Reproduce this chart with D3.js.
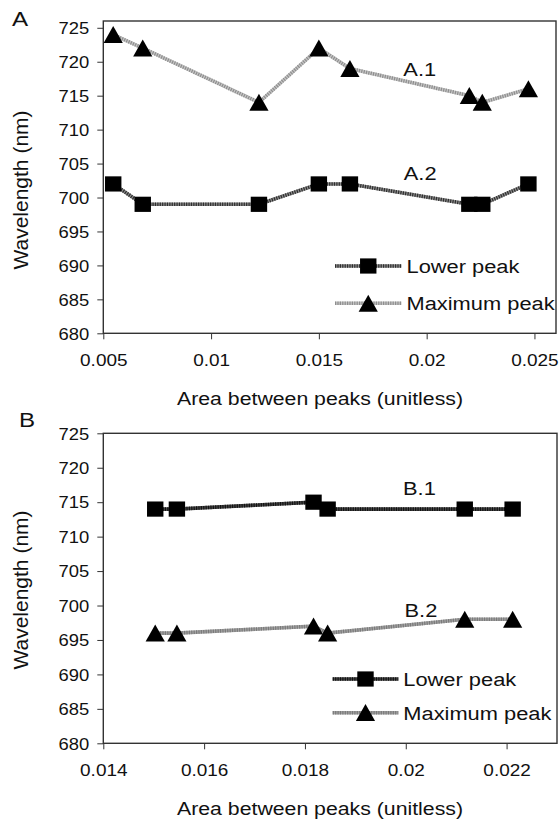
<!DOCTYPE html>
<html>
<head>
<meta charset="utf-8">
<script src="https://cdn.jsdelivr.net/npm/d3@7"></script>
<style>
  html, body { margin: 0; padding: 0; background: #fff; }
  svg { display: block; font-family: "Liberation Sans", Arial, sans-serif; }
</style>
</head>
<body>
<svg id="chart" width="559" height="821"></svg>
<script>
// Panel A data
const xA = [0.00546, 0.00683, 0.01222, 0.0150, 0.01644, 0.02198, 0.02258, 0.02472];
const lowerA = [702, 699, 699, 702, 702, 699, 699, 702];
const maxA = [724, 722, 714, 722, 719, 715, 714, 716];

// Panel B data
const xB = [0.01503, 0.01546, 0.01817, 0.01845, 0.02117, 0.02212];
const lowerB = [714, 714, 715, 714, 714, 714];
const maxB = [696, 696, 697, 696, 698, 698];

// tick labels
const yTicks = [680, 685, 690, 695, 700, 705, 710, 715, 720, 725];
const xTicksA = [0.005, 0.01, 0.015, 0.02, 0.025];
const xTicksB = [0.014, 0.016, 0.018, 0.02, 0.022];

const seriesNames = ['Lower peak', 'Maximum peak'];

// the original scan is a bit stretched sideways, so text gets the same
const SX = 1.15;

const svg = d3.select('#chart');

function stretchText(sel, x, y) {
  sel.attr('x', 0).attr('y', 0)
    .attr('transform', `translate(${x},${y}) scale(${SX},1)`);
}

function drawPanel(p) {
  const g = svg.append('g');
  const x = d3.scaleLinear().domain(p.xDomain).range([p.left, p.right]);
  const y = d3.scaleLinear().domain(p.yDomain).range([p.bottom, p.top]);

  // axes
  const ya = g.append('g')
    .attr('transform', `translate(${p.left},0)`)
    .call(d3.axisLeft(y).tickValues(yTicks).tickSize(6).tickSizeOuter(0));
  ya.select('.domain').remove();
  ya.selectAll('line').attr('stroke', '#333');
  ya.selectAll('text')
    .attr('font-size', 16).attr('fill', '#111').attr('dy', '0.36em')
    .each(function () { stretchText(d3.select(this), -14, 0); });

  const xa = g.append('g')
    .attr('transform', `translate(0,${p.bottom})`)
    .call(d3.axisBottom(x).tickValues(p.xTicks).tickSize(6).tickSizeOuter(0)
      .tickFormat(d => String(+d.toFixed(3))));
  xa.select('.domain').remove();
  xa.selectAll('line').attr('stroke', '#333');
  xa.selectAll('text')
    .attr('font-size', 16.5).attr('fill', '#111').attr('dy', '0.71em')
    .each(function () { stretchText(d3.select(this), 0, 21); });

  // frame
  g.append('rect')
    .attr('x', p.left).attr('y', p.top)
    .attr('width', p.right - p.left).attr('height', p.bottom - p.top)
    .attr('fill', 'none').attr('stroke', '#333').attr('stroke-width', 1.4);

  const line = d3.line().x(d => x(d[0])).y(d => y(d[1]));

  // hatched-looking lines: base stroke + fine dotted overlay
  p.series.forEach(s => {
    const pts = p.xs.map((v, i) => [v, s.values[i]]);
    g.append('path').datum(pts).attr('d', line)
      .attr('fill', 'none').attr('stroke', s.base).attr('stroke-width', 3.6);
    g.append('path').datum(pts).attr('d', line)
      .attr('fill', 'none').attr('stroke', s.dots).attr('stroke-width', 3.6)
      .attr('stroke-dasharray', '1.2 1.2');
  });

  p.series.forEach(s => {
    const pts = p.xs.map((v, i) => [v, s.values[i]]);
    drawMarkers(g, pts.map(d => [x(d[0]), y(d[1])]), s.shape);
  });

  // legend
  p.series.forEach((s, i) => {
    const ly = p.legend.y + i * p.legend.gap;
    g.append('line')
      .attr('x1', p.legend.x1).attr('x2', p.legend.x2)
      .attr('y1', ly).attr('y2', ly)
      .attr('stroke', s.base).attr('stroke-width', 3.6);
    g.append('line')
      .attr('x1', p.legend.x1).attr('x2', p.legend.x2)
      .attr('y1', ly).attr('y2', ly)
      .attr('stroke', s.dots).attr('stroke-width', 3.6)
      .attr('stroke-dasharray', '1.2 1.2');
    drawMarkers(g, [[(p.legend.x1 + p.legend.x2) / 2, ly]], s.shape);
    g.append('text').text(seriesNames[i])
      .attr('font-size', 19).attr('fill', '#111').attr('dy', '0.36em')
      .call(stretchText, p.legend.x2 + 5, ly);
  });

  // curve labels
  p.notes.forEach(n => {
    g.append('text').text(n.label)
      .attr('font-size', 19).attr('fill', '#111').attr('text-anchor', 'middle')
      .call(stretchText, x(n.x), y(n.y));
  });

  // titles
  g.append('text').text('Area between peaks (unitless)')
    .attr('font-size', 18.5).attr('fill', '#111').attr('text-anchor', 'middle')
    .call(stretchText, 320, p.bottom + 72);

  g.append('text').text('Wavelength (nm)')
    .attr('font-size', 21).attr('fill', '#111').attr('text-anchor', 'middle')
    .attr('transform', `translate(28,${p.yTitle}) rotate(-90)`);

  g.append('text').text(p.name)
    .attr('font-size', 21).attr('fill', '#111')
    .call(stretchText, p.nameX, p.nameY);
}

function drawMarkers(g, pts, shape) {
  if (shape === 'square') {
    g.selectAll(null).data(pts).enter().append('rect')
      .attr('x', d => d[0] - 8.2).attr('y', d => d[1] - 7.6)
      .attr('width', 16.4).attr('height', 15.2)
      .attr('fill', '#000');
  } else {
    g.selectAll(null).data(pts).enter().append('path')
      .attr('d', d => `M${d[0]},${d[1] - 8.6}L${d[0] + 9.6},${d[1] + 8.4}L${d[0] - 9.6},${d[1] + 8.4}Z`)
      .attr('fill', '#000');
  }
}

drawPanel({
  name: 'A', nameX: 12, nameY: 26,
  left: 103.3, right: 556, top: 21, bottom: 333.3,
  xDomain: [0.005, 0.026], yDomain: [680, 726],
  xTicks: xTicksA, xs: xA, yTitle: 190,
  series: [
    { values: lowerA, shape: 'square', base: '#8c8c8c', dots: '#2e2e2e' },
    { values: maxA, shape: 'triangle', base: '#c6c6c6', dots: '#8e8e8e' }
  ],
  legend: { x1: 335, x2: 401.5, y: 266, gap: 37.3 },
  notes: [
    { label: 'A.1', x: 0.01968, y: 717.9 },
    { label: 'A.2', x: 0.01970, y: 702.6 }
  ]
});

drawPanel({
  name: 'B', nameX: 19, nameY: 427,
  left: 103.3, right: 557, top: 433.3, bottom: 743.3,
  xDomain: [0.014, 0.023], yDomain: [680, 725],
  xTicks: xTicksB, xs: xB, yTitle: 590,
  series: [
    { values: lowerB, shape: 'square', base: '#4a4a4a', dots: '#111' },
    { values: maxB, shape: 'triangle', base: '#a4a4a4', dots: '#7a7a7a' }
  ],
  legend: { x1: 332.7, x2: 398.3, y: 679, gap: 33.7 },
  notes: [
    { label: 'B.1', x: 0.02027, y: 716.1 },
    { label: 'B.2', x: 0.02030, y: 698.3 }
  ]
});
</script>
</body>
</html>
